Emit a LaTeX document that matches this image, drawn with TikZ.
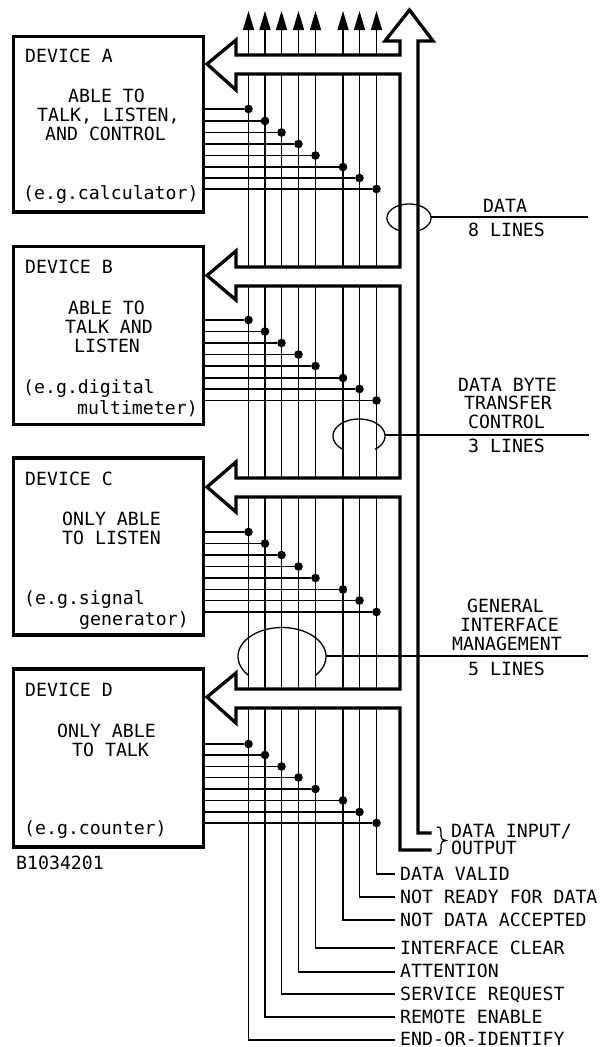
\documentclass[tikz,border=0pt]{standalone}
\usepackage{fontspec}
\setmainfont{DejaVu Sans Mono}
\begin{document}
\begin{tikzpicture}[x=1pt,y=-1pt,
  heavy/.style={line width=3.3pt,miter limit=10},
  thin line/.style={line width=1.3pt},
  devbox/.style={draw,line width=3.3pt,inner sep=0pt},
  tapdot/.style={circle,fill=black,inner sep=0pt,minimum size=8.6pt},
  lbl/.style={anchor=base west,inner sep=0pt,font=\fontsize{18.2}{18}\selectfont},
  uphead/.style={fill=black,draw=none}]
\useasboundingbox (0,0) rectangle (608,1047);

% device boxes
\node[devbox,minimum width=189.5pt,minimum height=175.5pt] (boxA) at (108.5,124.2) {};
\node[devbox,minimum width=189.5pt,minimum height=177.5pt] (boxB) at (108.5,335.5) {};
\node[devbox,minimum width=189.5pt,minimum height=177pt] (boxC) at (108.5,546.5) {};
\node[devbox,minimum width=189.5pt,minimum height=178pt] (boxD) at (108.5,758) {};

% bus outline
\draw[heavy,line join=miter]
  (431.5,850) -- (400,850) -- (400,708) -- (236,708) -- (236,723) -- (207,697) -- (236,673) -- (236,689)
  -- (400,689) -- (400,497) -- (236,497) -- (236,512) -- (207,487) -- (236,462) -- (236,478)
  -- (400,478) -- (400,286) -- (236,286) -- (236,300) -- (207,275.5) -- (236,251) -- (236,267)
  -- (400,267) -- (400,74) -- (236,74) -- (236,90) -- (207,64) -- (236,40) -- (236,55)
  -- (400,55) -- (400,41) -- (385,41) -- (409.5,10) -- (433,41) -- (418,41) -- (418,833) -- (431.5,833);

% bus lines
\foreach \n/\x/\e in {1/248.5/1040,2/265/1017,3/281.5/994,4/298.5/972,5/315.5/948,6/343/920,7/359.5/897,8/376.5/874}{
  \coordinate (top\n) at (\x,55);
  \coordinate (neck\n) at (\x,29);
  \draw[thin line] (top\n) -- (neck\n);
  \fill[uphead] (\x,11) -- (\x+5.7,30) -- (\x-5.7,30) -- cycle;
  \draw[thin line] (\x,74) -- (\x,267);
  \draw[thin line] (\x,286) -- (\x,478);
  \draw[thin line] (\x,497) -- (\x,689);
  \coordinate (end\n) at (395,\e);
  \draw[thin line] (\x,708) |- (end\n);
}

% taps
\foreach \b/\ys in {A/{109,121,132.5,144,155.5,167,178,189},
                    B/{320,331.5,343,354.5,366,378,389,400.5},
                    C/{532,543.5,555,566.5,578,589.5,600.5,612},
                    D/{744,755,766.5,777.5,789,800.5,812,823}}{
  \foreach \y [count=\i] in \ys {
    \ifcase\i\or\def\xx{248.5}\or\def\xx{265}\or\def\xx{281.5}\or\def\xx{298.5}\or\def\xx{315.5}\or\def\xx{343}\or\def\xx{359.5}\or\def\xx{376.5}\fi
    \node[tapdot] (dot\b\i) at (\xx,\y) {};
    \draw[thin line] (box\b.east |- dot\b\i) -- (dot\b\i);
  }
}

% group loops
\draw[thin line,smooth] plot[domain=246:-66,samples=60] ({409+22*cos(\x)},{218-14*sin(\x)});
\draw[thin line,smooth] plot[domain=232:-52,samples=60] ({359+26*cos(\x)},{436-17*sin(\x)});
\draw[thin line,smooth] plot[domain=221:-41,samples=60] ({282+44*cos(\x)},{656.5-29*sin(\x)});
\coordinate (loopA) at (431,217);
\coordinate (loopB) at (385,435);
\coordinate (loopC) at (326,656);
\coordinate (groupA) at (588,217);
\coordinate (groupB) at (589,435);
\coordinate (groupC) at (588,656);
\draw[thin line] (loopA) -- (groupA);
\draw[thin line] (loopB) -- (groupB);
\draw[thin line] (loopC) -- (groupC);

% brace
\draw[thin line] (437,827) .. controls (441,827) and (441,829) .. (441,832) -- (441,836)
  .. controls (441,839) and (443,840.5) .. (446,840.5)
  .. controls (443,840.5) and (441,842) .. (441,845) -- (441,849)
  .. controls (441,852) and (441,854) .. (437,854);

% device texts
\node[lbl] (a1) at (25,62.7) {DEVICE A};
\node[lbl] (a2) at (68,102.7) {ABLE TO};
\node[lbl] (a3) at (37,121.7) {TALK, LISTEN,};
\node[lbl] (a4) at (45,140.7) {AND CONTROL};
\node[lbl] (a5) at (23,199) {(e.g.calculator)};
\node[lbl] (b1) at (25,273) {DEVICE B};
\node[lbl] (b2) at (68,314) {ABLE TO};
\node[lbl] (b3) at (65,333) {TALK AND};
\node[lbl] (b4) at (74,352) {LISTEN};
\node[lbl] (b5) at (23,393) {(e.g.digital};
\node[lbl] (b6) at (77,414) {multimeter)};
\node[lbl] (c1) at (25,485) {DEVICE C};
\node[lbl] (c2) at (62,525) {ONLY ABLE};
\node[lbl] (c3) at (62,544) {TO LISTEN};
\node[lbl] (c4) at (24,604) {(e.g.signal};
\node[lbl] (c5) at (79,625.7) {generator)};
\node[lbl] (d1) at (25,696) {DEVICE D};
\node[lbl] (d2) at (57,737) {ONLY ABLE};
\node[lbl] (d3) at (72,756) {TO TALK};
\node[lbl] (d4) at (24,834) {(e.g.counter)};
\node[lbl] (code) at (16,869) {B1034201};

% group labels
\node[lbl] (g1) at (483,212) {DATA};
\node[lbl] (g2) at (468,236) {8 LINES};
\node[lbl] (g3) at (458,391) {DATA BYTE};
\node[lbl] (g4) at (464,409) {TRANSFER};
\node[lbl] (g5) at (468,428) {CONTROL};
\node[lbl] (g6) at (468,452) {3 LINES};
\node[lbl] (g7) at (467,612) {GENERAL};
\node[lbl] (g8) at (460,631) {INTERFACE};
\node[lbl] (g9) at (452,650) {MANAGEMENT};
\node[lbl] (g10) at (468,675) {5 LINES};
\node[lbl] (io1) at (451,837) {DATA INPUT/};
\node[lbl] (io2) at (451,854) {OUTPUT};

% signal labels
\node[lbl] (s8) at (400,880) {DATA VALID};
\node[lbl] (s7) at (400,903) {NOT READY FOR DATA};
\node[lbl] (s6) at (400,926) {NOT DATA ACCEPTED};
\node[lbl] (s5) at (400,954) {INTERFACE CLEAR};
\node[lbl] (s4) at (400,977) {ATTENTION};
\node[lbl] (s3) at (400,1000) {SERVICE REQUEST};
\node[lbl] (s2) at (400,1023) {REMOTE ENABLE};
\node[lbl] (s1) at (400,1045) {END-OR-IDENTIFY};
\end{tikzpicture}
\end{document}
